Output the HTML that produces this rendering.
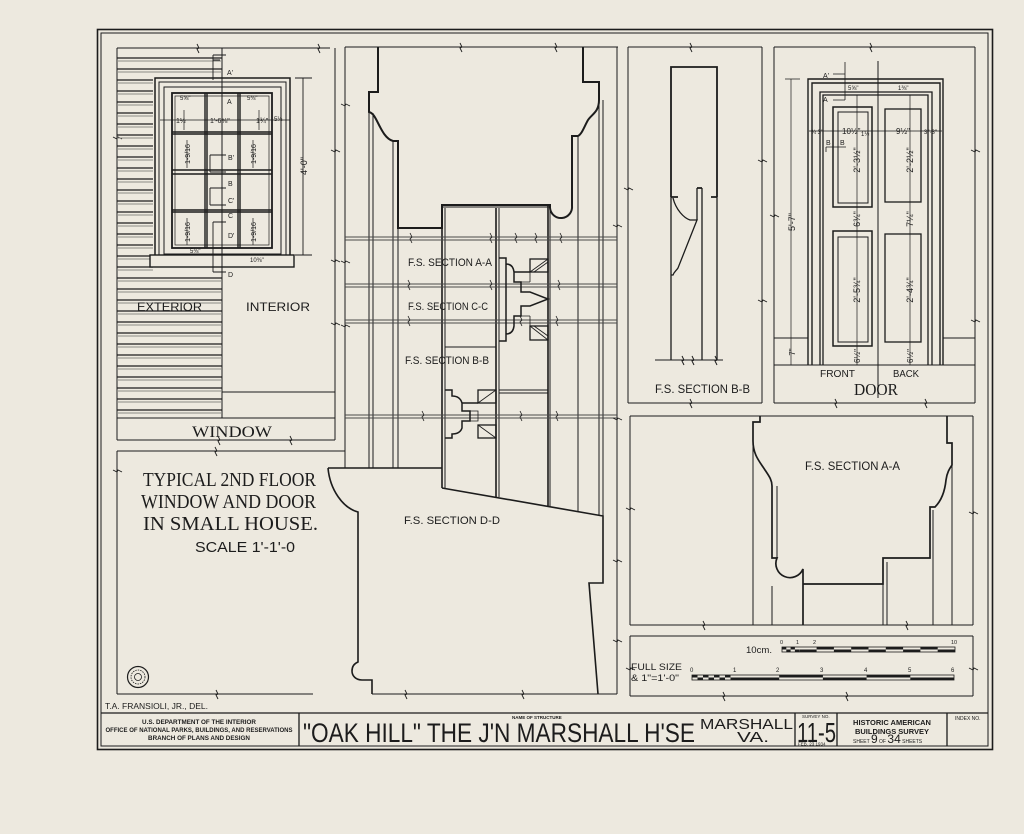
<!DOCTYPE html>
<html><head><meta charset="utf-8">
<style>
html,body{margin:0;padding:0;background:#ede9df;}
svg{display:block;}
text{font-family:"Liberation Sans",sans-serif;fill:#1c1c1c;stroke:none;}
.sf{font-family:"Liberation Serif",serif;}
</style></head><body>
<svg width="1024" height="834" viewBox="0 0 1024 834" xmlns="http://www.w3.org/2000/svg">
<rect width="1024" height="834" fill="#ede9df"/>
<g fill="none" stroke="#1c1c1c" stroke-width="1">
<!-- border -->
<rect x="97.5" y="29.5" width="895" height="720" stroke-width="1.6"/>
<rect x="101" y="33" width="887" height="713"/>
<!-- title block -->
<path d="M101,713H988 M299,713V746 M795,713V746 M837,713V746 M947,713V746" stroke-width="1.3"/>

<!-- ============ WINDOW PANEL ============ -->
<path d="M117,48H330 M117,48V440 M335,48V440 M222,48V418 M222,392H335 M117,418H335 M117,440H335"/>
<path d="M197,44l2,4l-2,1l2,4 M318,44l2,4l-2,1l2,4 M218,436l2,4l-2,1l2,4 M290,436l2,4l-2,1l2,4 M113,137l4,2l1,-2l4,2 M331,150l4,2l1,-2l4,2 M331,260l4,2l1,-2l4,2 M331,323l4,2l1,-2l4,2" stroke-width="0.9"/>
<!-- siding -->
<path stroke-width="1.3" d="M117,58H222 M117,69H222 M117,80H153 M117,91H153 M117,102H153 M117,113H153 M117,124H153 M117,135H153 M117,146H153 M117,157H153 M117,168H153 M117,179H153 M117,190H153 M117,201H153 M117,212H153 M117,223H153 M117,234H153 M117,245H153 M117,256H153 M117,267H153 M117,278H222 M117,289H222 M117,300H222 M117,311H222 M117,322H222 M117,333H222 M117,344H222 M117,355H222 M117,366H222 M117,377H222 M117,388H222 M117,399H222 M117,410H222"/>
<path stroke="#8a8a85" stroke-width="1" d="M117,61H222 M117,72H222 M117,83H153 M117,94H153 M117,105H153 M117,116H153 M117,127H153 M117,138H153 M117,149H153 M117,160H153 M117,171H153 M117,182H153 M117,193H153 M117,204H153 M117,215H153 M117,226H153 M117,237H153 M117,248H153 M117,259H153 M117,270H153 M117,281H222 M117,292H222 M117,303H222 M117,314H222 M117,325H222 M117,336H222 M117,347H222 M117,358H222 M117,369H222 M117,380H222 M117,391H222 M117,402H222 M117,413H222"/>
<!-- window -->
<rect x="155" y="78" width="135" height="179" stroke-width="1.5" fill="#ede9df"/>
<rect x="159" y="82" width="127" height="173"/>
<rect x="164" y="87" width="117" height="167"/>
<rect x="172" y="93" width="100" height="155" stroke-width="1.8"/>
<path d="M172,170H272 M172,174H272" stroke-width="1.6"/>
<path d="M205,93V248 M207,93V248 M238,93V248 M240,93V248 M172,132H272 M172,134H272 M172,210H272 M172,212H272" stroke-width="1.4"/>
<rect x="175" y="96" width="94" height="149" stroke-width="0.7"/>
<rect x="150" y="255" width="144" height="12" stroke-width="1.4" fill="#ede9df"/>
<path d="M222,78V268" stroke-width="1"/>
<!-- section markers on window -->
<path d="M213,55H226 M213,55V80 M213,60H220 M210,155H226 M210,155V172 M210,172H226 M210,188H226 M210,188V205 M210,205H226 M213,222H226 M213,222V272 M213,272H226" stroke-width="0.9"/>
<!-- 4'-0" dim -->
<path d="M303,78V255 M295,78H312 M295,255H312" stroke-width="0.9"/>
<!-- horizontal dim -->
<path d="M160,120H290 M184,110V130 M259,110V130 M187,140V168 M253,140V168 M187,218V245 M253,218V245" stroke-width="0.7"/>

<!-- ============ LOWER LEFT PANEL ============ -->
<path d="M117,451H345 M117,451V694 M117,694H313"/>
<path d="M215,447l2,4l-2,1l2,4 M216,690l2,4l-2,1l2,4 M113,470l4,2l1,-2l4,2" stroke-width="0.9"/>
<circle cx="138" cy="677" r="10.5" stroke-width="1.2"/>
<circle cx="138" cy="677" r="7" stroke-width="0.8" stroke-dasharray="1.5 1"/>
<circle cx="138" cy="677" r="3.5" stroke-width="0.8"/>

<!-- ============ CENTER PANEL ============ -->
<path d="M345,47H618 M345,47V468 M617,47V694"/>
<path d="M460,43l2,4l-2,1l2,4 M555,43l2,4l-2,1l2,4" stroke-width="0.9"/>
<!-- profile -->
<path stroke-width="2" d="M378,47V92H369V112 C373,113 375,117 378,123 C382,131 386,139 393,141 H398V228H442V205H550V208"/>
<path stroke-width="2" d="M550,208 A10.5,10.5 0 1,0 572,206 V136 H578 C582,134 584,127 588,120 C592,114 599,112 599,100 V82H583V47"/>
<path d="M369,112V468 M373,113V468 M393,141V468 M398,228V468 M578,136V511 M599,100V515 M603,100V516" stroke-width="1"/>
<!-- boxes -->
<path stroke-width="1.6" d="M442,205V488 M496,208V497 M548,205V506"/>
<path d="M445,208V488 M499,208V497 M550,208V506 M442,207H550 M499,390H548 M499,393H548 M445,347H496"/>
<!-- rails -->
<path stroke="#4a4a4a" stroke-width="1" d="M345,237H617 M345,240H617 M345,284H617 M345,287H617 M345,320H617 M345,323H617 M345,415H617 M345,418H617"/>
<path d="M410,233l2,4l-2,2l2,4 M490,233l2,4l-2,2l2,4 M515,233l2,4l-2,2l2,4 M535,233l2,4l-2,2l2,4 M560,233l2,4l-2,2l2,4 M408,280l2,4l-2,2l2,4 M490,280l2,4l-2,2l2,4 M558,280l2,4l-2,2l2,4 M408,316l2,4l-2,2l2,4 M520,316l2,4l-2,2l2,4 M556,316l2,4l-2,2l2,4 M422,411l2,4l-2,2l2,4 M520,411l2,4l-2,2l2,4 M556,411l2,4l-2,2l2,4" stroke-width="0.8"/>
<path d="M341,104l4,2l1,-2l4,2 M341,261l4,2l1,-2l4,2 M341,325l4,2l1,-2l4,2 M613,225l4,2l1,-2l4,2 M613,418l4,2l1,-2l4,2" stroke-width="0.8"/>
<!-- moldings A-A / C-C -->
<path stroke-width="1.5" d="M499,258H506V264 Q513,264 514,272H530 M506,264V341 M514,272V282H521V292H530 L548,299 L530,306 H521V316H514V326 Q513,334 506,334 V341H499"/>
<rect x="530" y="259" width="18" height="13" stroke-width="1.3"/>
<rect x="530" y="326" width="18" height="14" stroke-width="1.3"/>
<path d="M530,272L548,259 M534,272L548,262 M530,326L548,340 M534,326L548,336 M514,282H530 M514,316H530 M530,272V282 M530,316V326" stroke-width="0.8"/>
<!-- molding B-B -->
<path stroke-width="1.5" d="M445,390H452V396 Q460,396 462,403H478 M462,403V411H470V421H462V428 Q460,434 452,434V438H445"/>
<rect x="478" y="390" width="18" height="13" stroke-width="1.3"/>
<rect x="478" y="425" width="18" height="13" stroke-width="1.3"/>
<path d="M478,403L496,390 M478,425L496,438 M470,411H478V421H470" stroke-width="0.8"/>
<!-- D-D -->
<path stroke-width="1.6" d="M328,468H442 M328,468 C330,490 343,508 358,512 V662 C353,664 352,668 352,671 C352,676 356,680 362,680 H372V694 M442,488 L603,516 V583 H589 L598,694"/>
<path d="M372,694H617 M345,468V451"/>
<path d="M405,690l2,4l-2,1l2,4 M522,690l2,4l-2,1l2,4 M613,560l4,2l1,-2l4,2 M613,640l4,2l1,-2l4,2" stroke-width="0.9"/>

<!-- ============ PANEL 3 (B-B) ============ -->
<path d="M628,47H762 M628,47V403 M762,47V403 M628,403H762"/>
<path d="M690,43l2,4l-2,1l2,4 M690,399l2,4l-2,1l2,4 M624,188l4,2l1,-2l4,2 M758,160l4,2l1,-2l4,2 M758,300l4,2l1,-2l4,2" stroke-width="0.9"/>
<path stroke-width="1.8" d="M671,197V67H717V197 M671,197H678 M697,188H702 M717,197H711"/>
<path stroke-width="1.3" d="M671,197V360 M717,197V360 M702,188V360 M697,188V220 M673,198 C676,210 684,218 690,220 H697 L678,268 C676,271 674,272 673,275 H671"/>
<path d="M655,360H723 M682,356l2,4l-2,1l2,4 M692,356l2,4l-2,1l2,4 M715,356l2,4l-2,1l2,4"/>

<!-- ============ PANEL 4 (DOOR) ============ -->
<path d="M774,47H975 M774,47V403 M975,47V403 M774,403H975 M774,365H975 M774,338H808 M943,338H975"/>
<path d="M870,43l2,4l-2,1l2,4 M835,399l2,4l-2,1l2,4 M925,399l2,4l-2,1l2,4 M770,215l4,2l1,-2l4,2 M971,150l4,2l1,-2l4,2 M971,320l4,2l1,-2l4,2" stroke-width="0.9"/>
<path stroke-width="1.4" d="M808,365V79H943V365 M812,365V83H940V365"/>
<path stroke-width="1.3" d="M820,365V92H932V365 M823,365V95H928V365"/>
<path d="M878,61V398" stroke-width="1"/>
<rect x="833" y="107" width="39" height="100" stroke-width="1.5"/>
<rect x="838" y="112" width="30" height="91"/>
<rect x="833" y="231" width="39" height="115" stroke-width="1.5"/>
<rect x="838" y="237" width="30" height="105"/>
<rect x="885" y="109" width="36" height="93" stroke-width="1.3"/>
<rect x="885" y="234" width="36" height="108" stroke-width="1.3"/>
<path d="M857,95V365 M910,95V365 M809,131H942 M791,79V365 M785,79H800 M785,338H800 M785,365H800" stroke-width="0.7"/>
<path d="M833,74H845 M845,62V100 M833,100H845 M826,147H846 M826,147V152" stroke-width="0.8"/>

<!-- ============ PANEL 5 (A-A) ============ -->
<path d="M630,416H973 M630,416V625 M973,416V625 M630,625H973"/>
<path d="M703,621l2,4l-2,1l2,4 M906,621l2,4l-2,1l2,4 M626,508l4,2l1,-2l4,2 M969,512l4,2l1,-2l4,2" stroke-width="0.9"/>
<path stroke-width="1.7" d="M760,416V422H753V441 C753,455 760,462 765,470 C769,476 772,480 772,486 V558 H777 A14,14 0 1,0 803,569 V625 M803,584H883V558H930V507H935 C942,500 945,490 946,480 C947,472 950,468 952,465 V443H947V416"/>
<path d="M753,441V625 M777,486V558 M772,586V625 M887,562V625 M883,584V625 M933,510V625 M952,465V625"/>
<!-- scale box -->
<path d="M630,636H973 M630,636V696 M973,636V696 M630,696H973"/>
<path d="M723,692l2,4l-2,1l2,4 M846,692l2,4l-2,1l2,4 M969,668l4,2l1,-2l4,2 M626,668l4,2l1,-2l4,2" stroke-width="0.9"/>
<rect x="782" y="647" width="173" height="5" stroke-width="0.8"/>
<rect x="692" y="675" width="262" height="5" stroke-width="0.8"/>
</g>

<!-- scale bar fills -->
<g fill="#1c1c1c">
<rect x="782" y="647" width="4.3" height="2.5"/><rect x="790.6" y="647" width="4.3" height="2.5"/>
<rect x="786.3" y="649.5" width="4.3" height="2.5"/><rect x="794.9" y="649.5" width="4.3" height="2.5"/>
<rect x="799.3" y="649.5" width="17.3" height="2.5"/><rect x="816.6" y="647" width="17.3" height="2.5"/>
<rect x="833.9" y="649.5" width="17.3" height="2.5"/><rect x="851.2" y="647" width="17.3" height="2.5"/>
<rect x="868.5" y="649.5" width="17.3" height="2.5"/><rect x="885.8" y="647" width="17.3" height="2.5"/>
<rect x="903.1" y="649.5" width="17.3" height="2.5"/><rect x="920.4" y="647" width="17.3" height="2.5"/>
<rect x="937.7" y="649.5" width="17.3" height="2.5"/>
<rect x="692" y="675" width="5.5" height="2.5"/><rect x="703" y="675" width="5.5" height="2.5"/><rect x="714" y="675" width="5.5" height="2.5"/><rect x="725" y="675" width="5.5" height="2.5"/>
<rect x="697.5" y="677.5" width="5.5" height="2.5"/><rect x="708.5" y="677.5" width="5.5" height="2.5"/><rect x="719.5" y="677.5" width="5.5" height="2.5"/><rect x="730.5" y="677.5" width="5" height="2.5"/>
<rect x="735.5" y="677.5" width="43.7" height="2.5"/><rect x="779.2" y="675" width="43.7" height="2.5"/>
<rect x="822.9" y="677.5" width="43.7" height="2.5"/><rect x="866.6" y="675" width="43.7" height="2.5"/>
<rect x="910.3" y="677.5" width="43.7" height="2.5"/>
</g>

<!-- ============ TEXT ============ -->
<g>
<!-- window -->
<text x="137" y="311" font-size="12" textLength="65" lengthAdjust="spacingAndGlyphs">EXTERIOR</text>
<text x="246" y="311" font-size="12" textLength="64" lengthAdjust="spacingAndGlyphs">INTERIOR</text>
<text class="sf" x="192" y="437" font-size="16" textLength="80" lengthAdjust="spacingAndGlyphs">WINDOW</text>
<text font-size="9" transform="translate(307,166) rotate(-90)" text-anchor="middle">4'-0"</text>
<text x="227" y="75" font-size="7">A'</text>
<text x="227" y="104" font-size="7">A</text>
<text x="228" y="160" font-size="7">B'</text>
<text x="228" y="186" font-size="7">B</text>
<text x="228" y="203" font-size="7">C'</text>
<text x="228" y="218" font-size="7">C</text>
<text x="228" y="238" font-size="7">D'</text>
<text x="228" y="277" font-size="7">D</text>
<text x="176" y="123" font-size="7">1½</text>
<text x="210" y="123" font-size="7">1'-6⅝"</text>
<text x="256" y="123" font-size="7">1¾"</text>
<text x="274" y="121" font-size="6">5¼</text>
<text x="180" y="100" font-size="6">5⅝"</text>
<text x="247" y="100" font-size="6">5⅜"</text>
<text font-size="7" transform="translate(190,154) rotate(-90)" text-anchor="middle">1-9/16</text>
<text font-size="7" transform="translate(256,154) rotate(-90)" text-anchor="middle">1-9/16</text>
<text font-size="7" transform="translate(190,232) rotate(-90)" text-anchor="middle">1-9/16</text>
<text font-size="7" transform="translate(256,232) rotate(-90)" text-anchor="middle">1-9/16</text>
<text x="190" y="253" font-size="6">5⅜"</text>
<text x="250" y="262" font-size="6">10⅜"</text>
<!-- lower left -->
<text class="sf" x="143" y="486" font-size="20" textLength="173" lengthAdjust="spacingAndGlyphs">TYPICAL 2ND FLOOR</text>
<text class="sf" x="141" y="508" font-size="20" textLength="175" lengthAdjust="spacingAndGlyphs">WINDOW AND DOOR</text>
<text class="sf" x="143" y="530" font-size="20" textLength="175" lengthAdjust="spacingAndGlyphs">IN SMALL HOUSE.</text>
<text x="195" y="552" font-size="15" textLength="100" lengthAdjust="spacingAndGlyphs">SCALE 1'-1'-0</text>
<text x="105" y="709" font-size="8" textLength="103" lengthAdjust="spacingAndGlyphs">T.A. FRANSIOLI, JR., DEL.</text>
<!-- center -->
<text x="408" y="266" font-size="11" textLength="84" lengthAdjust="spacingAndGlyphs">F.S. SECTION A-A</text>
<text x="408" y="310" font-size="11" textLength="80" lengthAdjust="spacingAndGlyphs">F.S. SECTION C-C</text>
<text x="405" y="364" font-size="11" textLength="84" lengthAdjust="spacingAndGlyphs">F.S. SECTION B-B</text>
<text x="404" y="524" font-size="11" textLength="96" lengthAdjust="spacingAndGlyphs">F.S. SECTION D-D</text>
<!-- panel 3 -->
<text x="655" y="393" font-size="12" textLength="95" lengthAdjust="spacingAndGlyphs">F.S. SECTION B-B</text>
<!-- door -->
<text x="820" y="377" font-size="10" textLength="35" lengthAdjust="spacingAndGlyphs">FRONT</text>
<text x="893" y="377" font-size="10" textLength="26" lengthAdjust="spacingAndGlyphs">BACK</text>
<text class="sf" x="854" y="395" font-size="17" textLength="44" lengthAdjust="spacingAndGlyphs">DOOR</text>
<text font-size="9" transform="translate(795,222) rotate(-90)" text-anchor="middle">5'-7"</text>
<text font-size="8" transform="translate(795,352) rotate(-90)" text-anchor="middle">7"</text>
<text x="823" y="78" font-size="7">A'</text>
<text x="823" y="102" font-size="7">A</text>
<text x="826" y="145" font-size="7">B</text>
<text x="840" y="145" font-size="7">B</text>
<text x="842" y="134" font-size="8">10½"</text>
<text x="896" y="134" font-size="8">9½"</text>
<text x="811" y="134" font-size="6">¾ 3"</text>
<text x="924" y="134" font-size="6">3"·3"</text>
<text x="861" y="136" font-size="6">1½</text>
<text x="848" y="90" font-size="6">5⅝"</text>
<text x="898" y="90" font-size="6">1⅜"</text>
<text font-size="9" transform="translate(860,160) rotate(-90)" text-anchor="middle">2'-3½"</text>
<text font-size="9" transform="translate(860,219) rotate(-90)" text-anchor="middle">6¾"</text>
<text font-size="9" transform="translate(860,290) rotate(-90)" text-anchor="middle">2'-5¾"</text>
<text font-size="8" transform="translate(860,356) rotate(-90)" text-anchor="middle">6½"</text>
<text font-size="9" transform="translate(913,160) rotate(-90)" text-anchor="middle">2'-2½"</text>
<text font-size="9" transform="translate(913,219) rotate(-90)" text-anchor="middle">7¼"</text>
<text font-size="9" transform="translate(913,290) rotate(-90)" text-anchor="middle">2'-4¾"</text>
<text font-size="8" transform="translate(913,356) rotate(-90)" text-anchor="middle">6½"</text>
<!-- panel 5 -->
<text x="805" y="470" font-size="12" textLength="95" lengthAdjust="spacingAndGlyphs">F.S. SECTION A-A</text>
<text x="746" y="653" font-size="9" textLength="26" lengthAdjust="spacingAndGlyphs">10cm.</text>
<text font-size="5.5" x="780" y="644">0</text><text font-size="5.5" x="796" y="644">1</text><text font-size="5.5" x="813" y="644">2</text><text font-size="5.5" x="951" y="644">10</text>
<text font-size="6" x="690" y="672">0</text><text font-size="6" x="733" y="672">1</text><text font-size="6" x="776" y="672">2</text><text font-size="6" x="820" y="672">3</text><text font-size="6" x="864" y="672">4</text><text font-size="6" x="908" y="672">5</text><text font-size="6" x="951" y="672">6</text>
<text x="631" y="670" font-size="9" textLength="51" lengthAdjust="spacingAndGlyphs">FULL SIZE</text>
<text x="631" y="681" font-size="9" textLength="48" lengthAdjust="spacingAndGlyphs">&amp; 1"=1'-0"</text>
<!-- title block -->
<text x="199" y="724" font-size="6.3" font-weight="bold" text-anchor="middle">U.S. DEPARTMENT OF THE INTERIOR</text>
<text x="199" y="732" font-size="6.3" font-weight="bold" text-anchor="middle" textLength="187" lengthAdjust="spacingAndGlyphs">OFFICE OF NATIONAL PARKS, BUILDINGS, AND RESERVATIONS</text>
<text x="199" y="740" font-size="6.3" font-weight="bold" text-anchor="middle">BRANCH OF PLANS AND DESIGN</text>
<text x="512" y="719" font-size="4.5" font-weight="bold">NAME OF STRUCTURE</text>
<text x="303" y="742" font-size="27" textLength="392" lengthAdjust="spacingAndGlyphs">"OAK HILL" THE J'N MARSHALL H'SE</text>
<text x="700" y="729" font-size="15" textLength="93" lengthAdjust="spacingAndGlyphs">MARSHALL</text>
<text x="737" y="742" font-size="15" textLength="32" lengthAdjust="spacingAndGlyphs">VA.</text>
<text x="802" y="718" font-size="4.5">SURVEY NO.</text>
<text x="797" y="742" font-size="28" textLength="39" lengthAdjust="spacingAndGlyphs">11-5</text>
<text x="798" y="745.5" font-size="4.5">FEB. 23 1934</text>
<text x="892" y="725" font-size="7.5" font-weight="bold" text-anchor="middle">HISTORIC AMERICAN</text>
<text x="892" y="734" font-size="7.5" font-weight="bold" text-anchor="middle">BUILDINGS SURVEY</text>
<text x="853" y="743" font-size="5">SHEET <tspan font-size="12">9</tspan> OF <tspan font-size="12">34</tspan> SHEETS</text>
<text x="955" y="720" font-size="5">INDEX NO.</text>
</g>
</svg>
</body></html>
